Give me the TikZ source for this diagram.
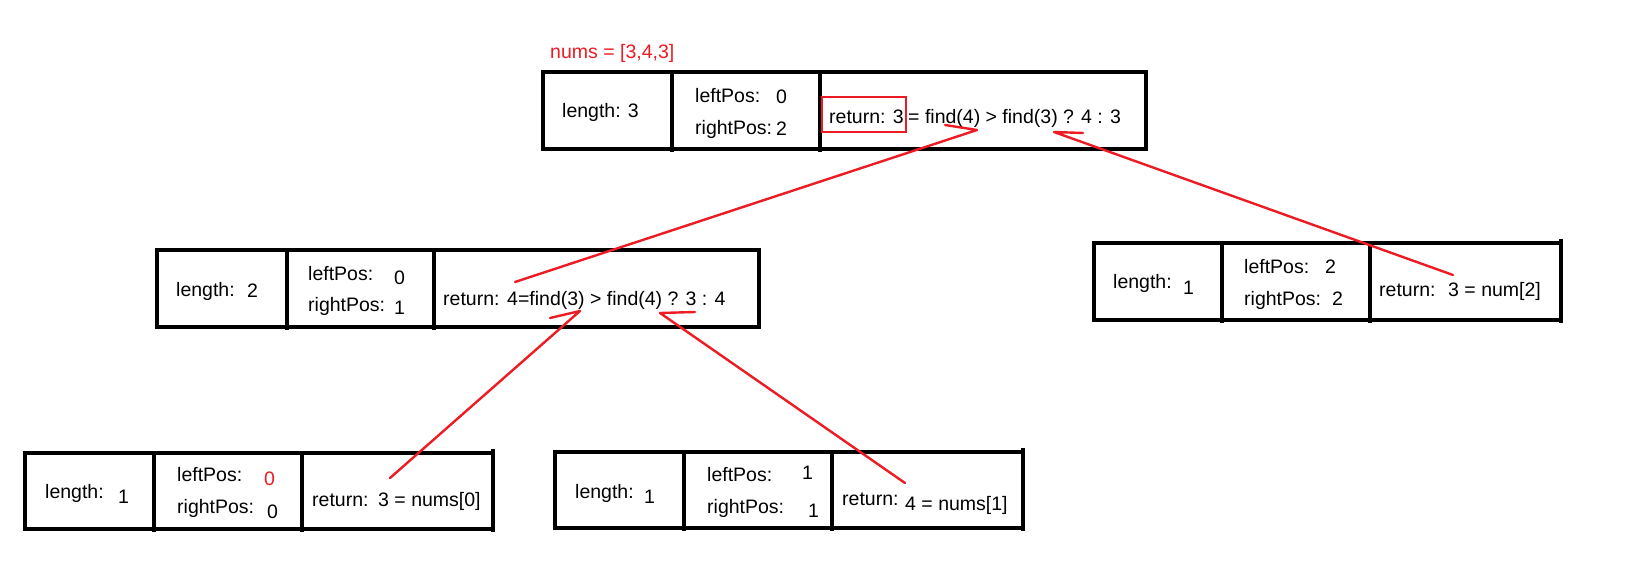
\documentclass[tikz,border=0pt]{standalone}
\usepackage{fontspec}
\setmainfont{Liberation Sans}
\definecolor{myred}{RGB}{237,28,36}
\begin{document}
\begin{tikzpicture}[x=1pt,y=-1pt,
  box/.style={line width=3.2pt},
  txt/.style={anchor=west, inner sep=0pt, yshift=-3pt, font=\fontsize{19.5}{23}\selectfont, text height=14pt, text depth=4pt},
  redtxt/.style={txt, text=myred},
  redline/.style={draw=myred, line width=2.4pt, line cap=round, line join=round},
  redbox/.style={draw=myred, line width=2.6pt}]
\useasboundingbox (0,0) rectangle (1638,588);
\fill[white] (0,0) rectangle (1638,588);

% ---------- top box ----------
\node[redtxt] (nums) at (550,51) {nums = [3,4,3]};
\draw[box] (543,72) rectangle (1146,149);
\draw[box] (672,72) -- (672,152);
\draw[box] (820,72) -- (820,152);
\node[txt] (len0) at (562,110) {length: 3};
\node[txt] (lp0) at (695,95) {leftPos:};
\node[txt] (lp0v) at (776,96) {0};
\node[txt] (rp0) at (695,127) {rightPos:};
\node[txt] (rp0v) at (776,128) {2};
\node[txt] (ret0) at (829,116) {return: 3};
\node[txt] (expr0) at (908,116) {= find(4) > find(3) ? 4 : 3};
\draw[redbox] (822,97) rectangle (906,132);

% ---------- middle-left box ----------
\draw[box] (157,250) rectangle (759,327);
\draw[box] (287,250) -- (287,330);
\draw[box] (434,250) -- (434,330);
\node[txt] (len1) at (176,288) {length:};
\node[txt] (len1v) at (247,289) {2};
\node[txt] (lp1) at (308,272) {leftPos:};
\node[txt] (lp1v) at (394,276) {0};
\node[txt] (rp1) at (308,303) {rightPos:};
\node[txt] (rp1v) at (394,306) {1};
\node[txt] (ret1) at (443,297) {return:};
\node[txt] (expr1) at (507,297) {4=find(3) > find(4) ? 3 : 4};

% ---------- right box ----------
\draw[box] (1094,243) rectangle (1561,320);
\draw[box] (1561,239) -- (1561,323);
\draw[box] (1222,243) -- (1222,323);
\draw[box] (1370,243) -- (1370,323);
\node[txt] (len2) at (1113,280) {length:};
\node[txt] (len2v) at (1183,286) {1};
\node[txt] (lp2) at (1244,265) {leftPos:};
\node[txt] (lp2v) at (1325,265) {2};
\node[txt] (rp2) at (1244,297) {rightPos:};
\node[txt] (rp2v) at (1332,297) {2};
\node[txt] (ret2) at (1379,288) {return:};
\node[txt] (expr2) at (1448,288) {3 = num[2]};

% ---------- bottom-left box ----------
\draw[box] (25,453) rectangle (493,529);
\draw[box] (493,449) -- (493,532);
\draw[box] (154,453) -- (154,532);
\draw[box] (302,453) -- (302,532);
\node[txt] (len3) at (45,490) {length:};
\node[txt] (len3v) at (118,495) {1};
\node[txt] (lp3) at (177,473) {leftPos:};
\node[redtxt] (lp3v) at (264,477) {0};
\node[txt] (rp3) at (177,505) {rightPos:};
\node[txt] (rp3v) at (267,510) {0};
\node[txt] (ret3) at (312,498) {return:};
\node[txt] (expr3) at (378,498) {3 = nums[0]};

% ---------- bottom-middle box ----------
\draw[box] (555,452) rectangle (1023,528);
\draw[box] (1023,448) -- (1023,531);
\draw[box] (684,452) -- (684,531);
\draw[box] (832,452) -- (832,531);
\node[txt] (len4) at (575,490) {length:};
\node[txt] (len4v) at (644,495) {1};
\node[txt] (lp4) at (707,473) {leftPos:};
\node[txt] (lp4v) at (802,471) {1};
\node[txt] (rp4) at (707,505) {rightPos:};
\node[txt] (rp4v) at (808,509) {1};
\node[txt] (ret4) at (842,497) {return:};
\node[txt] (expr4) at (905,502) {4 = nums[1]};

% ---------- red connectors ----------
\coordinate (h1a) at (945,125);
\coordinate (h1b) at (977,130);
\coordinate (h1c) at (515,282);
\coordinate (h2a) at (1083,133);
\coordinate (h2b) at (1054,132);
\coordinate (h2c) at (1453,275);
\coordinate (h3a) at (550,318);
\coordinate (h3b) at (580,311);
\coordinate (h3c) at (390,478);
\coordinate (h4a) at (695,312);
\coordinate (h4b) at (660,313);
\coordinate (h4c) at (905,483);
\draw[redline] (h1a) -- (h1b) -- (h1c);
\draw[redline] (h2a) -- (h2b) -- (h2c);
\draw[redline] (h3a) -- (h3b) -- (h3c);
\draw[redline] (h4a) -- (h4b) -- (h4c);
\end{tikzpicture}
\end{document}
